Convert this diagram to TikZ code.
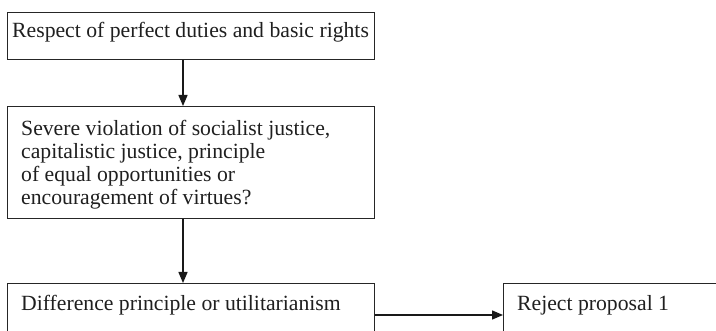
\documentclass[tikz,border=0pt]{standalone}
\usepackage{fontspec}
\setmainfont{Liberation Serif}
\usetikzlibrary{arrows.meta}
\tikzset{
  boxshape/.style={draw=black!85, line width=1.2pt, rectangle, inner sep=0pt, anchor=north west},
  txt/.style={text=black!88, inner sep=0pt, anchor=base west, align=left,
    font=\fontsize{21.7}{23}\selectfont},
  conn/.style={draw=black!90, line width=1.3pt, -{Triangle[length=11pt,width=9pt]}}
}
\begin{document}
\begin{tikzpicture}[x=1pt,y=-1pt]
\useasboundingbox (0,0) rectangle (716,331);
\clip (0,0) rectangle (716,331);
\node[boxshape, minimum width=367pt, minimum height=47pt] (b1) at (7,12) {};
\node[boxshape, minimum width=367pt, minimum height=112pt] (b2) at (7,106) {};
\node[boxshape, minimum width=367pt, minimum height=80pt] (b3) at (7,283) {};
\node[boxshape, minimum width=260pt, minimum height=80pt] (b4) at (503,283) {};
\node[txt] (t1) at (12,38) {Respect of perfect duties and basic rights};
\node[txt] (t2) at (21,205) {Severe violation of socialist justice,\\capitalistic justice, principle\\of equal opportunities or\\encouragement of virtues?};
\node[txt] (t3) at (21,311) {Difference principle or utilitarianism};
\node[txt] (t4) at (517,311) {Reject proposal 1};
\draw[conn] (b1.south -| 183,0) -- (b2.north -| 183,0);
\draw[conn] (b2.south -| 183,0) -- (b3.north -| 183,0);
\draw[conn] (b3.east |- 0,315) -- (b4.west |- 0,315);
\end{tikzpicture}
\end{document}
